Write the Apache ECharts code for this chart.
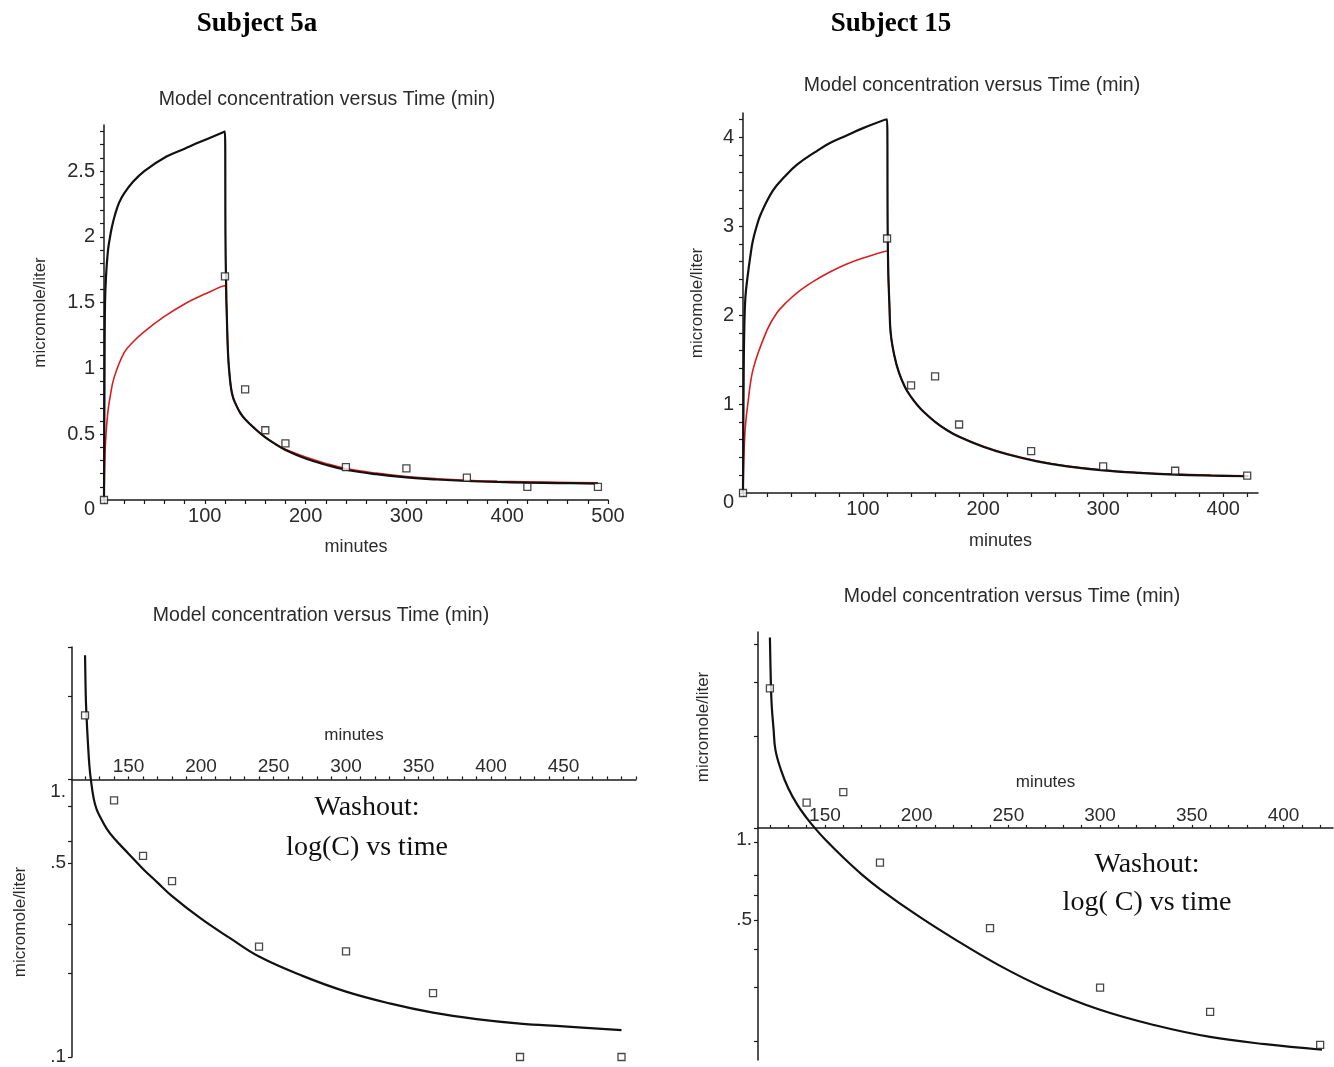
<!DOCTYPE html>
<html>
<head>
<meta charset="utf-8">
<title>Model concentration versus Time</title>
<script src="https://cdn.jsdelivr.net/npm/echarts@6/dist/echarts.min.js"></script>
<style>
  html, body { margin: 0; padding: 0; background: #fff; }
  #main { width: 1334px; height: 1067px; }
</style>
</head>
<body>
<div id="main"></div>
<script>
// ---- Subject 5a ----
// measured samples (squares)
var obsTime5a = [0, 120, 140, 160, 180, 240, 300, 360, 420, 490];
var obsConc5a = [0, 1.70, 0.84, 0.53, 0.43, 0.25, 0.24, 0.17, 0.10, 0.10];
// model curve (black)
var modelTime5a = [0, 0.5, 1, 2, 4, 6, 8, 11, 15, 20, 29, 40, 62, 80, 95, 120,
    120.5, 121, 122, 123, 124, 126, 128, 130, 135, 140, 150, 160, 170, 180,
    200, 220, 240, 270, 300, 330, 360, 390, 420, 450, 490];
var modelConc5a = [0, 0.9, 1.5, 1.7, 1.9, 2.0, 2.08, 2.17, 2.26, 2.33, 2.42, 2.5, 2.61, 2.67, 2.72, 2.80,
    2.0, 1.7, 1.35, 1.12, 1.0, 0.851, 0.78, 0.74, 0.664, 0.614, 0.54, 0.476, 0.425, 0.38,
    0.315, 0.268, 0.23, 0.196, 0.172, 0.156, 0.1445, 0.137, 0.132, 0.129, 0.125];
// second model curve (red)
var redTime5a = [0, 1, 2, 4, 6, 10, 20, 30, 40, 60, 80, 100, 120,
    121, 122, 123, 124, 126, 128, 130, 135, 140, 150, 160, 170, 180,
    200, 220, 240, 270, 300, 330, 360, 390, 420, 450, 490];
var redConc5a = [0, 0.35, 0.5, 0.68, 0.78, 0.93, 1.12, 1.21, 1.28, 1.395, 1.49, 1.565, 1.63,
    1.55, 1.36, 1.12, 1.0, 0.851, 0.78, 0.74, 0.664, 0.614, 0.54, 0.478, 0.428, 0.385,
    0.326, 0.278, 0.239, 0.204, 0.179, 0.162, 0.150, 0.143, 0.138, 0.134, 0.130];

// ---- Subject 15 ----
var obsTime15 = [0, 120, 140, 160, 180, 240, 300, 360, 420];
var obsConc15 = [0, 2.86, 1.21, 1.31, 0.77, 0.47, 0.30, 0.25, 0.195];
var modelTime15 = [0, 0.5, 1, 2, 4, 6, 8, 11, 15, 25, 35, 45, 60, 72, 85, 100, 120,
    120.5, 121, 122, 123, 126, 130, 135, 140, 145, 150, 160, 170, 180,
    200, 220, 245, 270, 300, 330, 360, 390, 421];
var modelConc15 = [0, 1.2, 1.8, 2.2, 2.45, 2.65, 2.82, 2.98, 3.14, 3.40, 3.56, 3.69, 3.83, 3.93, 4.01, 4.10, 4.20,
    3.0, 2.5, 2.1, 1.8, 1.549, 1.349, 1.189, 1.079, 0.991, 0.918, 0.80, 0.705, 0.631,
    0.519, 0.435, 0.355, 0.299, 0.254, 0.226, 0.207, 0.196, 0.188];
var redTime15 = [0, 1, 2, 4, 8.6, 20, 28, 36, 45, 59, 72, 86, 100, 120,
    121, 122, 123, 126, 130, 135, 140, 145, 150, 160, 170, 180,
    200, 220, 245, 270, 300, 330, 360, 390, 421];
var redConc15 = [0, 0.5, 0.75, 1.0, 1.4, 1.83, 2.02, 2.14, 2.25, 2.38, 2.48, 2.57, 2.64, 2.72,
    2.45, 2.1, 1.8, 1.549, 1.349, 1.189, 1.079, 0.991, 0.918, 0.80, 0.707, 0.634,
    0.524, 0.44, 0.36, 0.304, 0.259, 0.231, 0.212, 0.2, 0.192];

// ---- tick labels ----
var xLabelsTop5a = [100, 200, 300, 400, 500];
var yLabelsTop5a = [0, 0.5, 1, 1.5, 2, 2.5];
var xLabelsTop15 = [100, 200, 300, 400];
var yLabelsTop15 = [0, 1, 2, 3, 4];
var xLabelsLog5a = [150, 200, 250, 300, 350, 400, 450];
var xLabelsLog15 = [150, 200, 250, 300, 350, 400];
var yLabelsLog = [1, 0.5, 0.1];
var yTicksLog5a = [3, 2, 1, 0.8, 0.6, 0.5, 0.3, 0.2, 0.1];
var yTicksLog15 = [4, 3, 2, 1, 0.9, 0.7, 0.6, 0.5, 0.4, 0.3, 0.2];

var FONT = 'Liberation Sans';
var SERIF = 'Liberation Serif';
var INK = '#1a1a1a';
var TXT = '#2b2b2b';

var grids = [
    { left: 104, top: 125, width: 504, height: 375 },
    { left: 743, top: 113, width: 515, height: 380 },
    { left: 72, top: 647, width: 564, height: 410 },
    { left: 758, top: 632, width: 575, height: 428 }
];
// concentration range shown on the two washout (log) panels
var logRange5a = [0.1, 3];
var logRange15 = [0.174, 4.375];

function range(a, b, step) {
    var out = [];
    for (var v = a; v <= b + 1e-9; v += step) out.push(+v.toFixed(4));
    return out;
}
function pairs(ts, cs) {
    return ts.map(function (t, i) { return [t, cs[i]]; });
}
// washout part on a log10 scale
function logPairs(ts, cs, from) {
    var out = [];
    ts.forEach(function (t, i) { if (t >= from && cs[i] > 0) out.push([t, Math.log10(cs[i])]); });
    return out;
}
function log10All(arr) { return arr.map(function (v) { return Math.log10(v); }); }

var labelStyle = { color: TXT, fontFamily: FONT, fontSize: 20 };
var richLow = { lo: { color: TXT, fontFamily: FONT, fontSize: 20, padding: [18, 0, 0, 0] } };
var richLowLog = { lo: { color: TXT, fontFamily: FONT, fontSize: 19, padding: [24, 0, 0, 0] } };

function xAxisTop(idx, max, labels, ticks, gap) {
    return {
        type: 'value', gridIndex: idx, min: 0, max: max,
        name: 'minutes', nameLocation: 'middle', nameGap: gap,
        nameTextStyle: { color: TXT, fontFamily: FONT, fontSize: 18 },
        axisLine: { lineStyle: { color: INK, width: 1.5 } },
        axisTick: { customValues: ticks, length: 4, lineStyle: { color: INK, width: 1.2 } },
        axisLabel: Object.assign({ customValues: labels, margin: 6 }, labelStyle),
        splitLine: { show: false }
    };
}
function yAxisTop(idx, max, labels, ticks, gap) {
    return {
        type: 'value', gridIndex: idx, min: 0, max: max,
        name: 'micromole/liter', nameLocation: 'middle', nameGap: gap,
        nameTextStyle: { color: TXT, fontFamily: FONT, fontSize: 17 },
        axisLine: { lineStyle: { color: INK, width: 1.5 } },
        axisTick: { customValues: ticks, length: 4, lineStyle: { color: INK, width: 1.2 } },
        axisLabel: Object.assign({
            customValues: labels, margin: 9, rich: richLow,
            formatter: function (v) { return v === 0 ? '{lo|0}' : String(v); }
        }, labelStyle),
        splitLine: { show: false }
    };
}
// time axis of a washout panel, drawn across the plot where C = 1
function xAxisLog(idx, min, max, labels, gap, cRange) {
    var lo = Math.log10(cRange[0]), hi = Math.log10(cRange[1]);
    var down = grids[idx].height * hi / (hi - lo);
    return {
        type: 'value', gridIndex: idx, min: min, max: max, position: 'top', offset: -down,
        name: 'minutes', nameLocation: 'middle', nameGap: gap,
        nameTextStyle: { color: TXT, fontFamily: FONT, fontSize: 17 },
        axisLine: { onZero: false, lineStyle: { color: INK, width: 1.5 } },
        axisTick: { customValues: range(120, max, 10), length: 3, lineStyle: { color: INK, width: 1.2 } },
        axisLabel: { customValues: labels, margin: 3, color: TXT, fontFamily: FONT, fontSize: 19 },
        splitLine: { show: false }
    };
}
function yAxisLog(idx, cRange, ticks) {
    return {
        type: 'value', gridIndex: idx, min: Math.log10(cRange[0]), max: Math.log10(cRange[1]),
        axisLine: { onZero: false, lineStyle: { color: INK, width: 1.5 } },
        axisTick: { customValues: log10All(ticks), length: 4, lineStyle: { color: INK, width: 1.2 } },
        axisLabel: {
            customValues: log10All(yLabelsLog), margin: 6, rich: richLowLog,
            color: TXT, fontFamily: FONT, fontSize: 19,
            formatter: function (v) {
                var c = Math.round(Math.pow(10, v) * 100) / 100;
                if (c === 1) return '{lo|1.}';
                return String(c).replace(/^0/, '');
            }
        },
        splitLine: { show: false }
    };
}

function curve(idx, data, color, width, z) {
    return {
        type: 'line', xAxisIndex: idx, yAxisIndex: idx, data: data,
        symbol: 'none', showSymbol: false, z: z,
        smooth: 0.4,
        lineStyle: { color: color, width: width }
    };
}
function samples(idx, data) {
    return {
        type: 'scatter', xAxisIndex: idx, yAxisIndex: idx, data: data, z: 5,
        symbol: 'rect', symbolSize: 7,
        itemStyle: { color: '#fff', borderColor: INK, borderWidth: 1.3 }
    };
}
function txt(x, y, text, size, family, extra) {
    return {
        type: 'text', x: x, y: y, silent: true,
        rotation: (extra && extra.rotation) || 0,
        style: {
            text: text, fill: (extra && extra.fill) || TXT,
            fontSize: size, fontFamily: family, fontWeight: (extra && extra.weight) || 'normal',
            align: 'center', verticalAlign: 'middle',
            textAlign: 'center', textVerticalAlign: 'middle'
        }
    };
}

var chart = echarts.init(document.getElementById('main'), null, { renderer: 'canvas' });

var option = {
    backgroundColor: '#fff',
    animation: false,
    grid: grids,
    xAxis: [
        xAxisTop(0, 500, xLabelsTop5a, range(0, 500, 20), 38),
        xAxisTop(1, 429, xLabelsTop15, range(0, 420, 20), 39),
        xAxisLog(2, 111, 500, xLabelsLog5a, 36, logRange5a),
        xAxisLog(3, 113.5, 427, xLabelsLog15, 37, logRange15)
    ],
    yAxis: [
        yAxisTop(0, 2.85, yLabelsTop5a, range(0, 2.8, 0.1), 55),
        yAxisTop(1, 4.27, yLabelsTop15, range(0, 4.2, 0.2), 37),
        yAxisLog(2, logRange5a, yTicksLog5a),
        yAxisLog(3, logRange15, yTicksLog15)
    ],
    series: [
        curve(0, pairs(redTime5a, redConc5a), '#d81e1e', 1.6, 2),
        curve(0, pairs(modelTime5a, modelConc5a), '#111', 2.2, 3),
        samples(0, pairs(obsTime5a, obsConc5a)),

        curve(1, pairs(redTime15, redConc15), '#d81e1e', 1.6, 2),
        curve(1, pairs(modelTime15, modelConc15), '#111', 2.2, 3),
        samples(1, pairs(obsTime15, obsConc15)),

        curve(2, logPairs(modelTime5a, modelConc5a, 120), '#111', 2.2, 3),
        samples(2, logPairs(obsTime5a, obsConc5a, 120)),

        curve(3, logPairs(modelTime15, modelConc15, 120), '#111', 2.2, 3),
        samples(3, logPairs(obsTime15, obsConc15, 120))
    ],
    graphic: [
        txt(257, 24, 'Subject 5a', 27, SERIF, { weight: 'bold', fill: '#000' }),
        txt(891, 24, 'Subject 15', 27, SERIF, { weight: 'bold', fill: '#000' }),
        txt(327, 100, 'Model concentration versus Time (min)', 19.5, FONT),
        txt(972, 86, 'Model concentration versus Time (min)', 19.5, FONT),
        txt(321, 616, 'Model concentration versus Time (min)', 19.5, FONT),
        txt(1012, 597, 'Model concentration versus Time (min)', 19.5, FONT),
        txt(20, 922, 'micromole/liter', 17, FONT, { rotation: Math.PI / 2 }),
        txt(703, 727, 'micromole/liter', 17, FONT, { rotation: Math.PI / 2 }),
        txt(367, 808, 'Washout:', 28, SERIF, { fill: '#111' }),
        txt(367, 848, 'log(C) vs time', 28, SERIF, { fill: '#111' }),
        txt(1147, 865, 'Washout:', 28, SERIF, { fill: '#111' }),
        txt(1147, 903, 'log( C) vs time', 28, SERIF, { fill: '#111' })
    ]
};

chart.setOption(option);
</script>
</body>
</html>
